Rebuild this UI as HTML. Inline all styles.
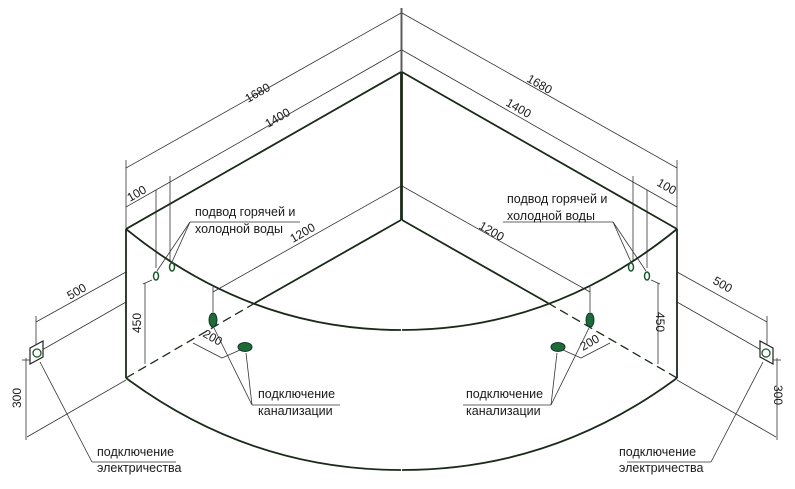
<!DOCTYPE html>
<html><head><meta charset="utf-8"><style>
html,body{margin:0;padding:0;background:#fff;}
svg{display:block;}
text{font-family:"Liberation Sans",sans-serif;fill:#1a1a1a;}
</style></head><body>
<svg width="795" height="489" viewBox="0 0 795 489" xmlns="http://www.w3.org/2000/svg">
<defs>
<g id="half">
  <g stroke="#333" stroke-width="0.8" fill="none">
    <line x1="126" y1="168" x2="401" y2="13"/>
    <line x1="126" y1="229" x2="126" y2="160"/>
    <line x1="401" y1="72" x2="401" y2="8"/>
    <line x1="170" y1="182" x2="401" y2="50"/>
    <line x1="126" y1="207" x2="170" y2="182"/>
    <line x1="170" y1="176" x2="170" y2="262"/>
    <line x1="156" y1="190" x2="156" y2="268"/>
    <line x1="213" y1="292" x2="401" y2="186"/>
    <line x1="213" y1="287" x2="213" y2="312"/>
    <line x1="36" y1="322" x2="126" y2="272"/>
    <line x1="36" y1="316" x2="36" y2="345"/>
    <line x1="42" y1="350" x2="126" y2="302"/>
    <line x1="27" y1="437" x2="126" y2="380"/>
    <line x1="26" y1="358" x2="26" y2="440"/>
    <line x1="22" y1="360" x2="34" y2="360"/>
    <line x1="145" y1="283" x2="145" y2="364"/>
    <line x1="143" y1="284" x2="152" y2="280"/>
    <line x1="193" y1="343" x2="222" y2="358"/>
    <line x1="222" y1="358" x2="240" y2="350"/>
    <line x1="190" y1="222" x2="300" y2="222"/>
    <line x1="190" y1="222" x2="157" y2="271"/>
    <line x1="190" y1="222" x2="172" y2="262"/>
    <line x1="252" y1="405" x2="340" y2="405"/>
    <line x1="252" y1="405" x2="214" y2="328"/>
    <line x1="252" y1="405" x2="246" y2="353"/>
    <line x1="92" y1="462" x2="176" y2="462"/>
    <line x1="92" y1="462" x2="40" y2="362"/>
  </g>
  <g stroke="#1a2a1a" stroke-width="1.8" fill="none">
    <line x1="126" y1="229" x2="401" y2="72"/>
    <line x1="126" y1="229" x2="126" y2="378"/>
    <line x1="401" y1="72" x2="401" y2="220"/>
    <line x1="401" y1="220" x2="255" y2="303"/>
    <path d="M126 229 Q 250 330 401 330"/>
    <path d="M126 378 Q 250 470 401 470"/>
  </g>
  <line x1="255" y1="303" x2="126" y2="378" stroke="#1a2a1a" stroke-width="1.3" stroke-dasharray="9,5"/>
  <ellipse cx="156" cy="276" rx="2.5" ry="4" fill="none" stroke="#1c5a2c" stroke-width="1.5"/>
  <ellipse cx="172" cy="267" rx="2.5" ry="4" fill="none" stroke="#1c5a2c" stroke-width="1.5"/>
  <ellipse cx="213" cy="320" rx="4" ry="7" fill="#1e6b36" stroke="#133"/>
  <ellipse cx="245" cy="347" rx="7" ry="4.5" fill="#1e6b36" stroke="#133"/>
  <polygon points="30,348 43,341 43,357 30,364" fill="#fff" stroke="#222" stroke-width="1.2"/>
  <circle cx="37" cy="353" r="4" fill="none" stroke="#1c5a2c" stroke-width="1.3"/>
</g>
</defs>
<use href="#half"/>
<use href="#half" transform="translate(803,0) scale(-1,1)"/>
<g font-size="12">
  <text transform="translate(248,103) rotate(-30)">1680</text>
  <text transform="translate(268,128) rotate(-30)">1400</text>
  <text transform="translate(130,202) rotate(-30)">100</text>
  <text transform="translate(293,243) rotate(-30)">1200</text>
  <text transform="translate(70,300) rotate(-30)">500</text>
  <text transform="translate(141,333) rotate(-90)">450</text>
  <text transform="translate(21,408) rotate(-90)">300</text>
  <text transform="translate(202,336) rotate(30)">200</text>
  <text transform="translate(526,81) rotate(30)">1680</text>
  <text transform="translate(505,105) rotate(30)">1400</text>
  <text transform="translate(656,185) rotate(30)">100</text>
  <text transform="translate(478,228) rotate(30)">1200</text>
  <text transform="translate(712,283) rotate(30)">500</text>
  <text transform="translate(656,312) rotate(90)">450</text>
  <text transform="translate(774,385) rotate(90)">300</text>
  <text transform="translate(583,351) rotate(-30)">200</text>
</g>
<g font-size="12.5">
  <text x="195" y="216">подвод горячей и</text>
  <text x="195" y="233">холодной воды</text>
  <text x="258" y="398">подключение</text>
  <text x="258" y="415">канализации</text>
  <text x="97" y="456">подключение</text>
  <text x="97" y="472">электричества</text>
  <text x="507" y="203">подвод горячей и</text>
  <text x="507" y="220">холодной воды</text>
  <text x="466" y="398">подключение</text>
  <text x="466" y="415">канализации</text>
  <text x="619" y="456">подключение</text>
  <text x="619" y="472">электричества</text>
</g>
</svg>
</body></html>
